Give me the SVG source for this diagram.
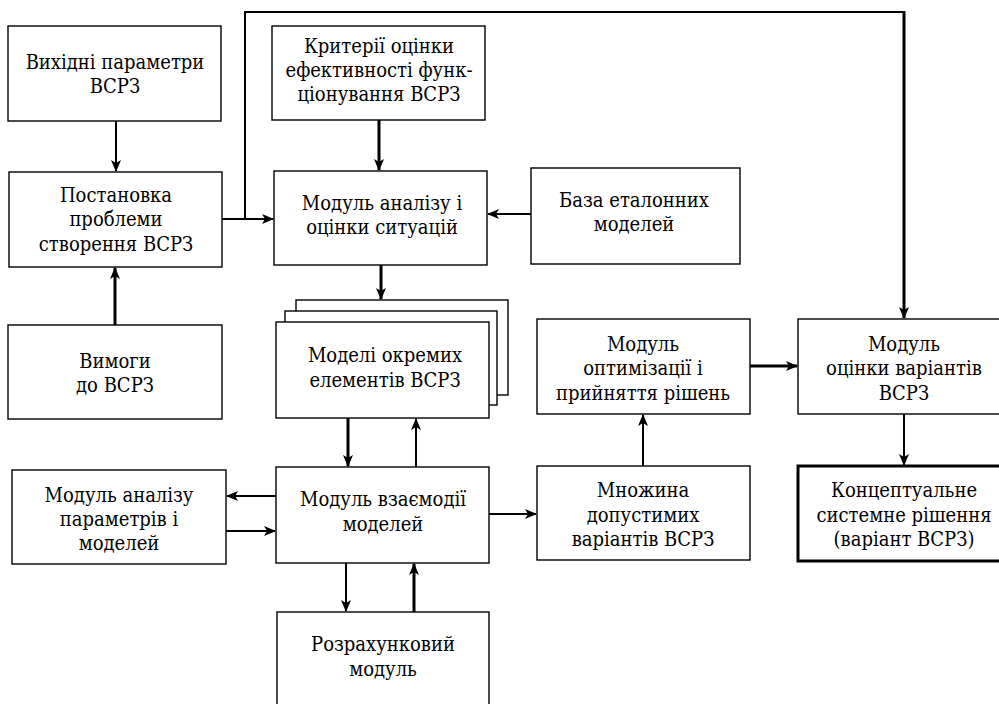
<svg xmlns="http://www.w3.org/2000/svg" width="999" height="704" viewBox="0 0 999 704">
<style>
.box{fill:#fff;stroke:#000;stroke-width:1.4}
.bold{fill:#fff;stroke:#000;stroke-width:3}
text{font-family:"DejaVu Serif Condensed","DejaVu Serif",serif;font-stretch:condensed;font-size:20px;fill:#000;text-anchor:middle}
.c{fill:none;stroke:#000;stroke-width:2}
.t{fill:none;stroke:#000;stroke-width:3}
</style>
<defs>
<marker id="a" viewBox="0 0 12 10" refX="11" refY="5" markerWidth="12" markerHeight="10" markerUnits="userSpaceOnUse" orient="auto">
<path d="M0,0 L12,5 L0,10 L3,5 z" fill="#000"/>
</marker>
</defs>
<g id="n1"><rect class="box" x="8" y="26" width="213" height="95"/><text x="115" y="69">Вихідні параметри</text><text x="115" y="93">ВСРЗ</text></g>
<g id="n2"><rect class="box" x="9" y="172" width="213" height="95"/><text x="116" y="202">Постановка</text><text x="116" y="226">проблеми</text><text x="116" y="251">створення ВСРЗ</text></g>
<g id="n3"><rect class="box" x="8" y="325" width="214" height="94"/><text x="115" y="368">Вимоги</text><text x="115" y="392">до ВСРЗ</text></g>
<g id="n4"><rect class="box" x="272" y="26" width="213" height="94"/><text x="379" y="53">Критерії оцінки</text><text x="379" y="77">ефективності функ-</text><text x="379" y="101">ціонування ВСРЗ</text></g>
<g id="n5"><rect class="box" x="274" y="171" width="213" height="94"/><text x="382" y="210">Модуль аналізу і</text><text x="382" y="234">оцінки ситуацій</text></g>
<g id="n6"><rect class="box" x="531" y="168" width="209" height="96"/><text x="634" y="207">База еталонних</text><text x="634" y="231">моделей</text></g>
<g id="n7"><rect class="box" x="296" y="300" width="212" height="95"/><rect class="box" x="285" y="311" width="212" height="94"/><rect class="box" x="276" y="322" width="213" height="96"/><text x="385" y="362">Моделі окремих</text><text x="385" y="387">елементів ВСРЗ</text></g>
<g id="n8"><rect class="box" x="12" y="470" width="214" height="94"/><text x="119" y="502">Модуль аналізу</text><text x="119" y="526">параметрів і</text><text x="119" y="550">моделей</text></g>
<g id="n9"><rect class="box" x="276" y="467" width="213" height="96"/><text x="383" y="506">Модуль взаємодії</text><text x="383" y="531">моделей</text></g>
<g id="n10"><rect class="box" x="277" y="612" width="212" height="100"/><text x="383" y="651">Розрахунковий</text><text x="383" y="676">модуль</text></g>
<g id="n11"><rect class="box" x="537" y="319" width="213" height="95"/><text x="643" y="351">Модуль</text><text x="643" y="375">оптимізації і</text><text x="643" y="400">прийняття рішень</text></g>
<g id="n12"><rect class="box" x="537" y="466" width="213" height="94"/><text x="643" y="497">Множина</text><text x="643" y="522">допустимих</text><text x="643" y="546">варіантів ВСРЗ</text></g>
<g id="n13"><rect class="box" x="798" y="319" width="210" height="95"/><text x="904" y="351">Модуль</text><text x="904" y="375">оцінки варіантів</text><text x="904" y="400">ВСРЗ</text></g>
<g id="n14"><rect class="bold" x="798" y="466" width="210" height="95"/><text x="904" y="497">Концептуальне</text><text x="904" y="522">системне рішення</text><text x="904" y="546">(варіант ВСРЗ)</text></g>
<g id="connectors">
<path class="c" d="M116,121 V171" marker-end="url(#a)"/>
<path class="t" d="M115,325 V268" marker-end="url(#a)"/>
<path class="t" d="M379,120 V170" marker-end="url(#a)"/>
<path class="c" d="M222,219 H273" marker-end="url(#a)"/>
<path class="c" d="M245,219 V12 H904"/>
<path class="t" d="M904,11 V318" marker-end="url(#a)"/>
<path class="c" d="M531,214 H488" marker-end="url(#a)"/>
<path class="t" d="M381,265 V299" marker-end="url(#a)"/>
<path class="t" d="M348,418 V466" marker-end="url(#a)"/>
<path class="c" d="M416,467 V419" marker-end="url(#a)"/>
<path class="c" d="M276,496 H227" marker-end="url(#a)"/>
<path class="c" d="M226,531 H275" marker-end="url(#a)"/>
<path class="c" d="M346,563 V611" marker-end="url(#a)"/>
<path class="t" d="M414,612 V564" marker-end="url(#a)"/>
<path class="c" d="M489,514 H536" marker-end="url(#a)"/>
<path class="c" d="M643,466 V415" marker-end="url(#a)"/>
<path class="t" d="M750,366 H797" marker-end="url(#a)"/>
<path class="c" d="M904,414 V465" marker-end="url(#a)"/>
</g>
</svg>
